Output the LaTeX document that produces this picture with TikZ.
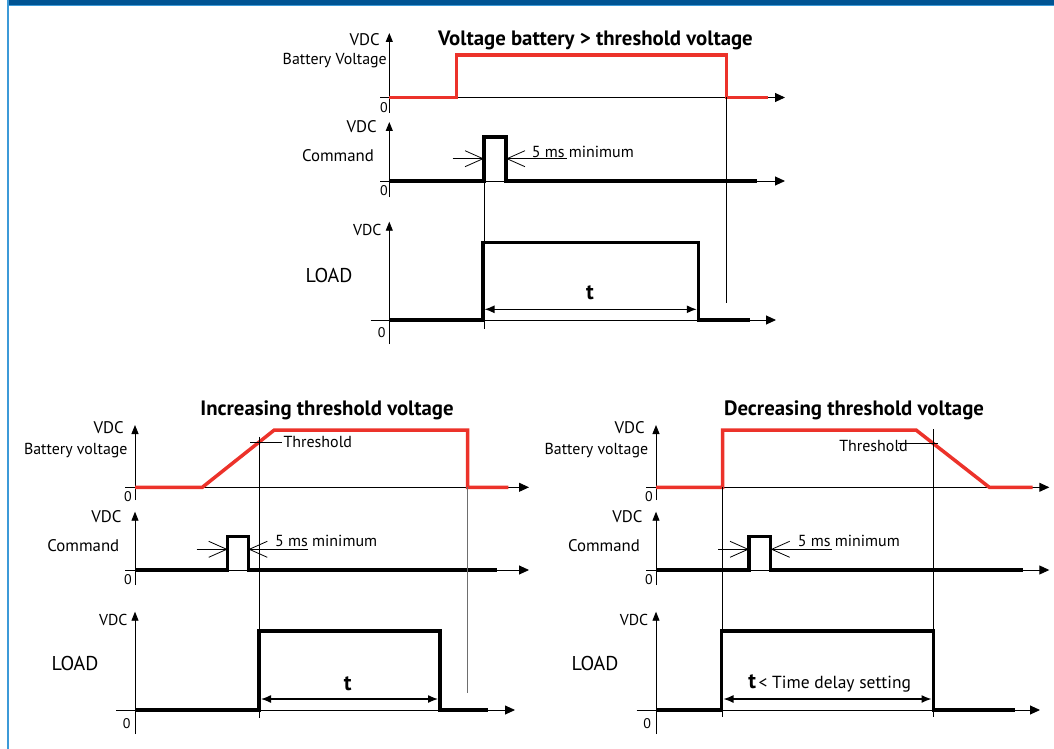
\documentclass[tikz,border=0pt]{standalone}
\usepackage{fontspec}
\setmainfont{PT Sans}
\usetikzlibrary{arrows.meta}
\definecolor{sigred}{RGB}{236,50,42}
\definecolor{bardark}{RGB}{0,84,147}
\definecolor{barlight}{RGB}{60,154,216}
\definecolor{guidegray}{RGB}{110,110,110}
\begin{document}
\begin{tikzpicture}[x=1pt,y=-1pt,
  axis/.style={line width=0.9pt,-{Triangle[length=10pt,width=9pt]}},
  yaxis/.style={line width=0.9pt,-{Triangle[length=9pt,width=7pt]}},
  redsig/.style={draw=sigred,line width=3.5pt},
  blksig/.style={draw=black,line width=3.5pt},
  guide/.style={line width=0.7pt},
  dimbarb/.style={line width=0.8pt,-{Straight Barb[length=18pt,width=16pt]}},
  tdim/.style={line width=1.3pt,{Latex[length=10pt,width=8pt]}-{Latex[length=10pt,width=8pt]}},
  lbl/.style={inner sep=0pt,font=\fontsize{16.8}{19}\selectfont},
  batlbl/.style={inner sep=0pt,font=\fontsize{15.9}{18}\selectfont},
  vlbl/.style={inner sep=0pt,font=\fontsize{15.8}{18}\selectfont},
  zlbl/.style={inner sep=0pt,font=\fontsize{14}{16}\selectfont},
  ms/.style={inner sep=0pt,font=\fontsize{16}{18}\selectfont},
  loadlbl/.style={inner sep=0pt,font=\fontsize{20}{23}\selectfont},
  ttl/.style={inner sep=0pt,font=\fontsize{20.8}{24}\selectfont\bfseries},
  tlbl/.style={inner sep=0pt,font=\fontsize{22}{26}\selectfont\bfseries}
]
\useasboundingbox (0,0) rectangle (1054,749);
% frame
\fill[bardark] (8,0) rectangle (1054,5);
\fill[barlight] (8,5) rectangle (1054,6.5);
\fill[barlight] (7.3,0) rectangle (8.7,749);

%%%%%%%%%%%%%%%% TOP %%%%%%%%%%%%%%%%
\node[ttl] (t1) at (595.5,40) {Voltage battery > threshold voltage};
% battery
\draw[yaxis] (389.3,113) -- (389.3,33);
\draw[axis] (380,97.5) -- (785,97.5);
\draw[redsig] (389.3,97.5) -- (456.7,97.5) -- (456.7,55) -- (726.7,55) -- (726.7,97.5) -- (768,97.5);
\node[lbl,anchor=east] (v1) at (380,40) {VDC};
\node[batlbl,anchor=east] (b1) at (387,61) {Battery Voltage};
\node[zlbl] (z1) at (384,108) {0};
% command
\draw[yaxis] (389.3,197) -- (389.3,122);
\draw[axis] (380,181) -- (785,181);
\draw[blksig] (389.3,181) -- (484,181) -- (484,137) -- (506,137) -- (506,181) -- (757,181);
\node[lbl,anchor=east] (v2) at (377,127) {VDC};
\node[lbl] (c1) at (338,156) {Command};
\node[zlbl] (z2) at (384,191) {0};
\draw[dimbarb] (452.7,158.7) -- (484,158.7);
\draw[dimbarb] (566.7,158.7) -- (506,158.7);
\node[ms,anchor=west] (m1) at (531.7,152) {5 ms minimum};
% load
\draw[yaxis] (389.3,344) -- (389.3,221.7);
\draw[axis] (370.7,320) -- (776,320);
\draw[blksig] (389.3,320) -- (482.5,320) -- (482.5,242.3) -- (698.7,242.3) -- (698.7,320) -- (750,320);
\node[vlbl,anchor=east] (v3) at (381.7,230) {VDC};
\node[loadlbl] (l1) at (329,275) {LOAD};
\node[zlbl] (z3) at (381.7,333) {0};
\draw[tdim] (484.5,309.3) -- (696.8,309.3);
\node[tlbl] (tt1) at (590,293) {t};
\draw[guide] (484,181) -- (484,329);
\draw[guide] (726.7,97.5) -- (726.7,303);

%%%%%%%%%%%%%%%% BOTTOM LEFT %%%%%%%%%%%%%%%%
\node[ttl] (t2) at (327,410.7) {Increasing threshold voltage};
\draw[yaxis] (135,500) -- (135,425);
\draw[axis] (125,487.3) -- (529,487.3);
\draw[redsig] (135,487.3) -- (202.3,487.3) -- (274.3,430) -- (467.7,430) -- (467.7,487.3) -- (508.3,487.3);
\node[lbl,anchor=east] (v4) at (124,428) {VDC};
\node[batlbl,anchor=east] (b2) at (127.7,451) {Battery voltage};
\node[zlbl] (z4) at (128,497) {0};
\draw[guide] (259.3,436.7) -- (259.3,718);
\draw[guide] (250,442.7) -- (281.7,442.7);
\node[ms,anchor=west] (th1) at (283.3,442) {Threshold};
% command
\draw[yaxis] (135,585) -- (135,511.7);
\draw[axis] (125,570) -- (529,570);
\draw[blksig] (135,570) -- (227.7,570) -- (227.7,536.7) -- (248.3,536.7) -- (248.3,570) -- (496.7,570);
\node[lbl,anchor=east] (v5) at (121.7,516.7) {VDC};
\node[lbl] (c2) at (83.3,546) {Command};
\node[zlbl] (z5) at (128,580) {0};
\draw[dimbarb] (196.7,549.3) -- (227.7,549.3);
\draw[dimbarb] (308.3,549.3) -- (248.3,549.3);
\node[ms,anchor=west] (m2) at (275,540.7) {5 ms minimum};
% load
\draw[yaxis] (135,734) -- (135,611.7);
\draw[axis] (116,710) -- (515,710);
\draw[blksig] (135,710) -- (259,710) -- (259,631) -- (440,631) -- (440,710) -- (488.3,710);
\node[vlbl,anchor=east] (v6) at (127.7,620) {VDC};
\node[loadlbl] (l2) at (75,663.3) {LOAD};
\node[zlbl] (z6) at (126.7,724) {0};
\draw[tdim] (261,699) -- (438,699);
\node[tlbl] (tt2) at (347.7,683.3) {t};
\draw[guide,draw=guidegray] (467.7,487.3) -- (467.7,693);

%%%%%%%%%%%%%%%% BOTTOM RIGHT %%%%%%%%%%%%%%%%
\node[ttl] (t3) at (854,410.7) {Decreasing threshold voltage};
\draw[yaxis] (656,500) -- (656,425);
\draw[axis] (646,487.3) -- (1049.3,487.3);
\draw[redsig] (656,487.3) -- (722.7,487.3) -- (722.7,430) -- (916,430) -- (989.3,487.3) -- (1032.7,487.3);
\node[lbl,anchor=east] (v7) at (645,428) {VDC};
\node[batlbl,anchor=east] (b3) at (648.3,451) {Battery voltage};
\node[zlbl] (z7) at (649,497) {0};
\draw[guide] (933.3,429) -- (933.3,717);
\draw[guide] (898.3,443.3) -- (938.3,443.3);
\node[ms,anchor=east] (th2) at (908,445.7) {Threshold};
% command
\draw[yaxis] (656,585) -- (656,511.7);
\draw[axis] (646,570) -- (1049.3,570);
\draw[blksig] (656,570) -- (749,570) -- (749,536.7) -- (770.7,536.7) -- (770.7,570) -- (1022.7,570);
\node[lbl,anchor=east] (v8) at (642.7,516.7) {VDC};
\node[lbl] (c3) at (604,546) {Command};
\node[zlbl] (z8) at (649,580) {0};
\draw[dimbarb] (718.3,549.3) -- (749,549.3);
\draw[dimbarb] (831.7,549.3) -- (770.7,549.3);
\node[ms,anchor=west] (m3) at (797.7,540.7) {5 ms minimum};
% load
\draw[yaxis] (656,734) -- (656,611.7);
\draw[axis] (636.7,710) -- (1040,710);
\draw[blksig] (656,710) -- (721.7,710) -- (721.7,631) -- (933.3,631) -- (933.3,710) -- (1015,710);
\node[vlbl,anchor=east] (v9) at (648.3,620) {VDC};
\node[loadlbl] (l3) at (595,663.3) {LOAD};
\node[zlbl] (z9) at (647.3,724) {0};
\draw[tdim] (723.5,699) -- (931.5,699);
\node[inner sep=0pt] (tt3) at (829.7,683.3) {{\fontsize{22}{26}\selectfont\bfseries t} {\fontsize{17.5}{20}\selectfont < Time delay setting}};
\draw[guide] (722.5,487.3) -- (722.5,717);
\end{tikzpicture}
\end{document}
